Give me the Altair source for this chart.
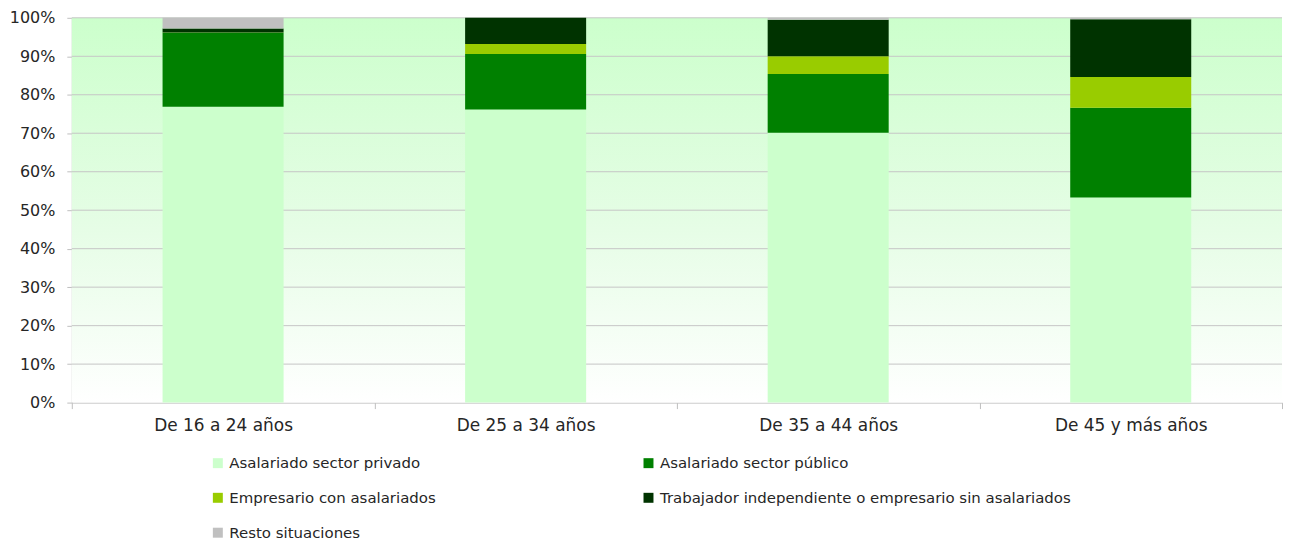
import altair as alt
import pandas as pd

categories = ["De 16 a 24 años", "De 25 a 34 años", "De 35 a 44 años", "De 45 y más años"]
series = [
    "Asalariado sector privado",
    "Asalariado sector público",
    "Empresario con asalariados",
    "Trabajador independiente o empresario sin asalariados",
    "Resto situaciones",
]
privado = [76.9, 76.2, 70.1, 53.3]
publico = [19.2, 14.4, 15.3, 23.3]
empresario = [0.1, 2.6, 4.6, 8.0]
independiente = [1.0, 6.8, 9.5, 15.0]
resto = [2.8, 0.0, 0.5, 0.4]
colors = ["#CCFFCC", "#008000", "#99CC00", "#003300", "#C0C0C0"]
y_ticks = [0, 10, 20, 30, 40, 50, 60, 70, 80, 90, 100]
# legend laid out column by column: column 1 = entries 1,3,5; column 2 = entries 2,4
legend_order = [series[0], series[2], series[4], series[1], series[3]]

W, H = 1214, 386
FONT = "DejaVu Sans"

rows = []
for si, (name, vals) in enumerate(zip(series, [privado, publico, empresario, independiente, resto])):
    for c, v in zip(categories, vals):
        rows.append({"cat": c, "serie": name, "val": v / 100.0, "idx": si})
df = pd.DataFrame(rows)

y_axis = alt.Axis(
    format=".0%",
    values=[t / 100.0 for t in y_ticks],
    labelOverlap=False,
    labelFontSize=16,
    labelFont=FONT,
    labelColor="#262626",
    tickSize=5,
    tickColor="#BFBFBF",
    domainColor="#BFBFBF",
    labelPadding=12,
    grid=False,
)
y_scale = alt.Scale(domain=[0, 1], nice=False)

bg = alt.Chart(alt.Data(values=[{}])).mark_rect(
    color=alt.Gradient(
        gradient="linear",
        stops=[
            alt.GradientStop(color="#CCFFCC", offset=0),
            alt.GradientStop(color="#E6FDE6", offset=0.55),
            alt.GradientStop(color="#FFFFFF", offset=1),
        ],
        x1=0, x2=0, y1=0, y2=1,
    )
).encode(x=alt.value(0), x2=alt.value(W), y=alt.value(0), y2=alt.value(H))

grid = alt.Chart(pd.DataFrame({"t": [t / 100.0 for t in y_ticks[1:]]})).mark_rule(
    color="#C6C6C6", strokeWidth=1
).encode(
    y=alt.Y("t:Q", scale=y_scale, axis=y_axis, title=None),
    x=alt.value(0),
    x2=alt.value(W),
)

bars = alt.Chart(df).mark_bar(width={"band": 0.4}).encode(
    x=alt.X(
        "cat:N",
        sort=categories,
        title=None,
        scale=alt.Scale(paddingInner=0, paddingOuter=0),
        axis=alt.Axis(
            labelAngle=0,
            labelFontSize=17,
            labelFont=FONT,
            labelColor="#262626",
            tickBand="extent",
            tickSize=6,
            tickColor="#BFBFBF",
            domainColor="#BFBFBF",
            labelPadding=9,
            grid=False,
        ),
    ),
    y=alt.Y("val:Q", stack="zero", title=None, scale=y_scale, axis=y_axis),
    color=alt.Color(
        "serie:N",
        scale=alt.Scale(domain=series, range=colors),
        legend=alt.Legend(
            title=None,
            orient="none",
            legendX=139,
            legendY=439,
            columns=2,
            gridAlign="all",
            columnPadding=0,
            rowPadding=19,
            values=legend_order,
            symbolType="square",
            symbolSize=100,
            symbolStrokeWidth=0,
            labelFontSize=15,
            labelFont=FONT,
            labelColor="#262626",
            labelLimit=500,
            labelOffset=4,
        ),
    ),
    order=alt.Order("idx:Q", sort="ascending"),
)

chart = alt.layer(bg, grid, bars).properties(
    width=W, height=H, padding={"left": 1, "top": 1, "right": 0, "bottom": 0}
).configure_view(stroke=None)

chart.save("out.html", embed_options={"renderer": "svg", "actions": False})
